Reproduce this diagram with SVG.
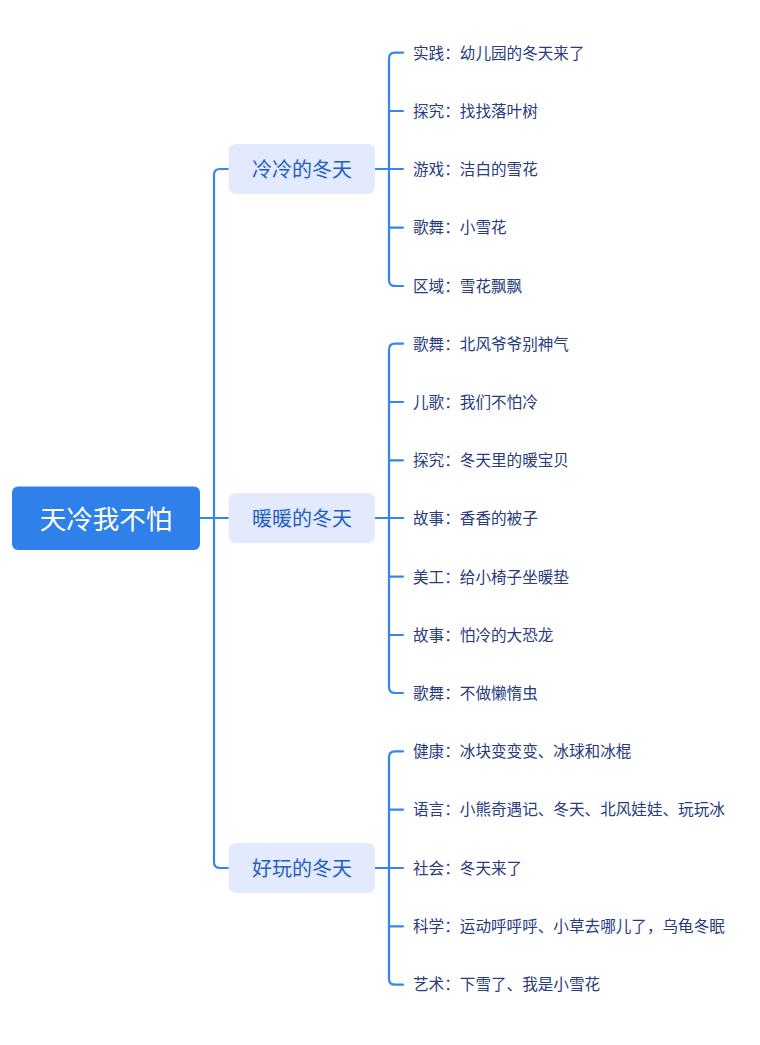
<svg xmlns="http://www.w3.org/2000/svg" width="760" height="1045" viewBox="0 0 760 1045">
<style>
.ln{fill:none;stroke:#3585ee;stroke-width:2.2;stroke-linecap:round;stroke-linejoin:round}
.leaf{font-family:"Noto Sans CJK SC","Noto Sans",sans-serif;font-size:15.6px;fill:#283b7d;dominant-baseline:central}
.br rect{fill:#e3eafd}
.br text{font-family:"Noto Sans CJK SC","Noto Sans",sans-serif;font-size:20px;fill:#1f5fc4;text-anchor:middle;dominant-baseline:central}
</style>
<rect width="760" height="1045" fill="#ffffff"/>
<g id="connectors">
<path class="ln" d="M200 518H229M229 169H220Q214 169 214 175V862Q214 868 220 868H229"/>
<path class="ln" d="M375 169H403M403 52.7H395Q389 52.7 389 58.7V280Q389 286 395 286H403M389 111H403M389 227.6H403"/>
<path class="ln" d="M375 518H403M403 343.7H395Q389 343.7 389 349.7V687Q389 693 395 693H403M389 402H403M389 460.3H403M389 576.6H403M389 635H403"/>
<path class="ln" d="M375 868H403M403 751.3H395Q389 751.3 389 757.3V978.7Q389 984.7 395 984.7H403M389 809.7H403M389 926.3H403"/>
</g>
<g id="root">
<rect x="12" y="486.5" width="188" height="63.5" rx="6" fill="#2f80e8"/>
<text x="106" y="517.5" font-family="Noto Sans CJK SC,Noto Sans,sans-serif" font-size="26.5" fill="#ffffff" text-anchor="middle" dominant-baseline="central">天冷我不怕</text>
</g>
<g id="b1" class="br"><rect x="228.5" y="144" width="146.5" height="50" rx="7"/><text x="302" y="168.5">冷冷的冬天</text></g>
<g id="b2" class="br"><rect x="228.5" y="493" width="146.5" height="50" rx="7"/><text x="302" y="517.5">暖暖的冬天</text></g>
<g id="b3" class="br"><rect x="228.5" y="843" width="146.5" height="50" rx="7"/><text x="302" y="867.5">好玩的冬天</text></g>
<g id="l1"><text class="leaf" x="413" y="51.5">实践：幼儿园的冬天来了</text></g>
<g id="l2"><text class="leaf" x="413" y="109.5">探究：找找落叶树</text></g>
<g id="l3"><text class="leaf" x="413" y="168">游戏：洁白的雪花</text></g>
<g id="l4"><text class="leaf" x="413" y="226">歌舞：小雪花</text></g>
<g id="l5"><text class="leaf" x="413" y="284.5">区域：雪花飘飘</text></g>
<g id="l6"><text class="leaf" x="413" y="342.5">歌舞：北风爷爷别神气</text></g>
<g id="l7"><text class="leaf" x="413" y="400.5">儿歌：我们不怕冷</text></g>
<g id="l8"><text class="leaf" x="413" y="459">探究：冬天里的暖宝贝</text></g>
<g id="l9"><text class="leaf" x="413" y="517">故事：香香的被子</text></g>
<g id="l10"><text class="leaf" x="413" y="575.5">美工：给小椅子坐暖垫</text></g>
<g id="l11"><text class="leaf" x="413" y="633.5">故事：怕冷的大恐龙</text></g>
<g id="l12"><text class="leaf" x="413" y="691.5">歌舞：不做懒惰虫</text></g>
<g id="l13"><text class="leaf" x="413" y="750">健康：冰块变变变、冰球和冰棍</text></g>
<g id="l14"><text class="leaf" x="413" y="808">语言：小熊奇遇记、冬天、北风娃娃、玩玩冰</text></g>
<g id="l15"><text class="leaf" x="413" y="866.5">社会：冬天来了</text></g>
<g id="l16"><text class="leaf" x="413" y="925">科学：运动呼呼呼、小草去哪儿了，乌龟冬眠</text></g>
<g id="l17"><text class="leaf" x="413" y="983">艺术：下雪了、我是小雪花</text></g>
</svg>
